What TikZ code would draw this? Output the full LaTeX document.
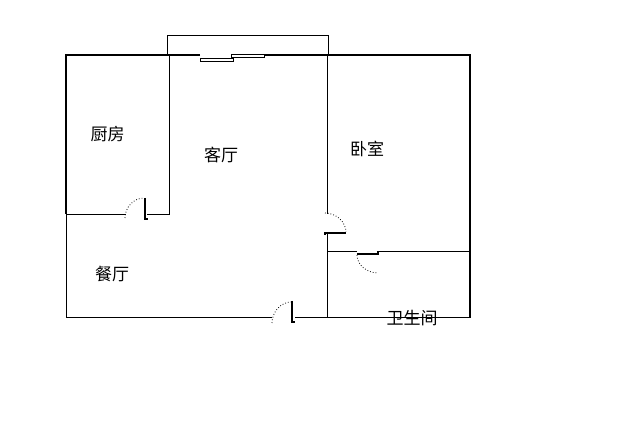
\documentclass[tikz,border=0pt]{standalone}
\usepackage{fontspec}
\setmainfont{Noto Sans CJK SC}
\tikzset{thinwall/.style={draw=black,line width=0.9pt},
thickwall/.style={draw=black,line width=1.9pt},
doorleaf/.style={draw=black,line width=2pt},
doorarc/.style={draw=black,line width=0.8pt,dotted},
pane/.style={draw=black,line width=0.9pt,fill=white},
roomlabel/.style={inner sep=0pt,font=\fontsize{17}{17}\selectfont}}

\begin{document}
\begin{tikzpicture}[x=1pt,y=-1pt]
  \useasboundingbox (0,0) rectangle (624,443);
  \fill [white] (0,0) rectangle (624,443);
  % balcony
  \draw [thinwall] (167.5,55) -- (167.5,35.5) -- (328,35.5) -- (328,55);
  % thin walls
  \draw [thinwall] (66,214) -- (66,317.5) -- (272,317.5);
  \draw [thinwall] (295,317.5) -- (470,317.5);
  \draw [thinwall] (66,214) -- (126,214);
  \draw [thinwall] (147,214) -- (169.5,214) -- (169.5,55);
  \draw [thinwall] (327.5,55) -- (327.5,214);
  \draw [thinwall] (327.5,234) -- (327.5,317.5);
  \draw [thinwall] (327.5,251.5) -- (357,251.5);
  \draw [thinwall] (378,251.5) -- (470,251.5);
  % outer walls
  \draw [thickwall] (200,55) -- (66,55) -- (66,214);
  \draw [thickwall] (263,55) -- (470,55) -- (470,318);
  % window
  \draw [pane] (200,58) rectangle (233,61);
  \draw [pane] (231,54) rectangle (264,57);
  % doors
  \draw [doorleaf] (145,198) -- (145,219) -- (148,219);
  \draw [doorarc] (125,218) .. controls (125,207) and (134,198) .. (144,198);
  \draw [doorleaf] (325,235) -- (325,233) -- (346,233);
  \draw [doorarc] (325,213) .. controls (336,213) and (346,222) .. (346,232);
  \draw [doorleaf] (357,254) -- (377.5,254) -- (377.5,251);
  \draw [doorarc] (357,255) .. controls (357,265) and (367,273) .. (378,273);
  \draw [doorleaf] (292,301) -- (292,322) -- (295,322);
  \draw [doorarc] (272,323) .. controls (272,312) and (281,302) .. (291,302);
  % rooms
  \node (kitchen) [roomlabel] at (107.5,134) {厨房};
  \node (living) [roomlabel] at (221,154.5) {客厅};
  \node (bedroom) [roomlabel] at (367,149) {卧室};
  \node (dining) [roomlabel] at (112,274) {餐厅};
  \node (bathroom) [roomlabel] at (412,318.5) {卫生间};
\end{tikzpicture}
\end{document}
